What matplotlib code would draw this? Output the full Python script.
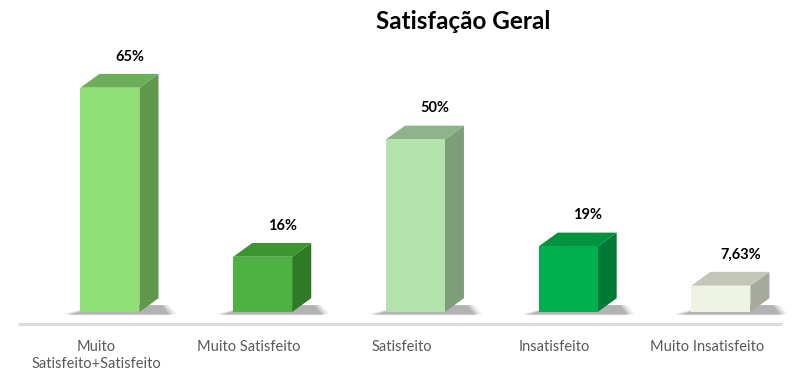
import numpy as np
import matplotlib.pyplot as plt
from matplotlib.patches import Polygon

categorias = ['Muito\nSatisfeito+Satisfeito', 'Muito Satisfeito', 'Satisfeito',
              'Insatisfeito', 'Muito Insatisfeito']
valores = [65, 16, 50, 19, 7.63]
rotulos = ['65%', '16%', '50%', '19%', '7,63%']
cor_frente = ['#8FDF74', '#4DB23F', '#B4E2AD', '#00B050', '#EEF3E2']
cor_lado = ['#5F9A4B', '#2F7A25', '#7C9F77', '#007A37', '#A5AA9D']
cor_topo = ['#6DAE58', '#3D9531', '#8FB38A', '#00933F', '#C3C7B8']

plt.rcParams['font.family'] = ['Lato', 'DejaVu Sans']

fig = plt.figure(figsize=(8.03, 3.82), dpi=100)
ax = fig.add_axes([0.0418, 0.111, 0.951, 0.795])
ax.set_xlim(-0.5, 4.5)
ax.set_ylim(-8, 80)
ax.axis('off')

largura = 0.386
dx = 0.125   # profundidade 3D (x)
dy = 4.0     # profundidade 3D (y)
x = np.arange(len(valores))

# piso
ax.plot([-0.6, 4.4], [-3.5, -3.5], color='#DCDCDC', lw=2.2, solid_capstyle='butt',
        zorder=1, clip_on=False)

for i, v in enumerate(valores):
    xl = x[i] - largura / 2
    xr = x[i] + largura / 2
    # sombra
    for k, a in enumerate([0.05, 0.07, 0.09, 0.12]):
        e = 0.07 - k * 0.015
        sh = Polygon([(xl - e - 0.05, -0.6 - k * 0.1), (xr + dx + e + 0.05, -0.6 - k * 0.1),
                      (xr + dx + e, dy * 0.5), (xl + dx, dy * 0.5)],
                     closed=True, facecolor='black', edgecolor='none', alpha=a, zorder=2)
        ax.add_patch(sh)
    # lado
    ax.add_patch(Polygon([(xr, 0), (xr + dx, dy), (xr + dx, v + dy), (xr, v)],
                         closed=True, facecolor=cor_lado[i], edgecolor='none', zorder=3))
    # topo
    ax.add_patch(Polygon([(xl, v), (xl + dx, v + dy), (xr + dx, v + dy), (xr, v)],
                         closed=True, facecolor=cor_topo[i], edgecolor='none', zorder=3))
    ax.text(x[i] + 0.13, v + dy + 3.0, rotulos[i], ha='center', va='bottom',
            fontsize=10.5, fontweight='bold', color='black')
    ax.text(x[i] - 0.09, -8.0, categorias[i], ha='center', va='top', fontsize=10.5,
            color='#595959', linespacing=1.35, clip_on=False)

ax.bar(x, valores, width=largura, color=cor_frente, edgecolor='none', zorder=4)

fig.text(0.577, 0.945, 'Satisfação Geral', ha='center', va='center',
         fontsize=17.5, fontweight='bold', color='black')

fig.savefig('out.png', dpi=100)
